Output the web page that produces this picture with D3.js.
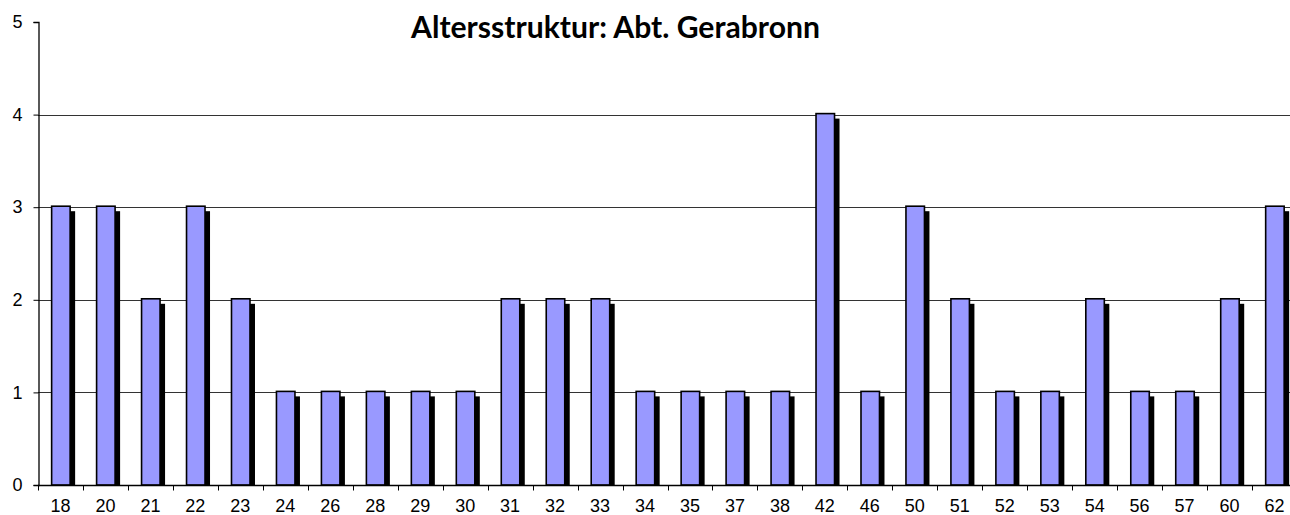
<!DOCTYPE html>
<html>
<head>
<meta charset="utf-8">
<script src="https://cdn.jsdelivr.net/npm/d3@7"></script>
<style>
  body { margin: 0; background: #fff; }
  svg { display: block; }
</style>
</head>
<body>
<svg id="svg"></svg>
<script>
const WIDTH = 1290, HEIGHT = 515;

// data
const ages = ['18','20','21','22','23','24','26','28','29','30','31','32','33','34','35','37','38','42','46','50','51','52','53','54','56','57','60','62'];
const counts = [3,3,2,3,2,1,1,1,1,1,2,2,2,1,1,1,1,4,1,3,2,1,1,2,1,1,2,3];
const yTicks = [0,1,2,3,4,5];
const title = 'Altersstruktur: Abt. Gerabronn';

const svg = d3.select('#svg').attr('width', WIDTH).attr('height', HEIGHT);

// the plot runs a little past the right edge of the picture, as in the original
const plotL = 38, plotR = 1297, plotT = 22, plotB = 485;

const x = d3.scaleBand().domain(ages).range([plotL, plotR]);
const y = d3.scaleLinear().domain([0, 5]).range([plotB, plotT]);

// gridlines
svg.append('g').selectAll('line')
    .data(yTicks.filter(t => t > 0 && t < 5))
    .join('line')
    .attr('x1', plotL).attr('x2', WIDTH)
    .attr('y1', d => Math.round(y(d)) + 0.5).attr('y2', d => Math.round(y(d)) + 0.5)
    .attr('stroke', '#333').attr('stroke-width', 1);

const barW = 18.5, off = 0.4;
const data = ages.map((a, i) => ({age: a, n: counts[i]}));
const bx = d => x(d.age) + x.bandwidth() / 2 - barW / 2 + off;

// shadows
svg.append('g').selectAll('rect')
    .data(data)
    .join('rect')
    .attr('x', d => bx(d) + 5)
    .attr('y', d => y(d.n) + 4)
    .attr('width', barW)
    .attr('height', d => plotB - y(d.n) - 4)
    .attr('fill', '#000');

// bars
svg.append('g').selectAll('rect')
    .data(data)
    .join('rect')
    .attr('x', d => bx(d))
    .attr('y', d => y(d.n) - 1)
    .attr('width', barW)
    .attr('height', d => plotB - y(d.n) + 1)
    .attr('fill', '#9999ff')
    .attr('stroke', '#000')
    .attr('stroke-width', 1.6);

// y axis
const yAxis = svg.append('g').attr('transform', 'translate(' + (plotL + 0.5) + ',0)')
    .call(d3.axisLeft(y).tickValues(yTicks).tickSize(5).tickPadding(11).tickFormat(d3.format('d')));
yAxis.select('.domain').attr('stroke', '#000').attr('stroke-width', 1.3);
yAxis.selectAll('.tick line').attr('stroke', '#000');
yAxis.selectAll('text').attr('font-family', '"Liberation Sans", Arial, sans-serif').attr('font-size', 18).attr('fill', '#000');

// x axis
const xAxis = svg.append('g').attr('transform', 'translate(0,' + (plotB + 0.5) + ')')
    .call(d3.axisBottom(x).tickSize(0).tickPadding(13.5));
xAxis.select('.domain').attr('stroke', '#000').attr('stroke-width', 1.3).attr('d', 'M' + plotL + ',0H' + WIDTH);
xAxis.selectAll('text').attr('font-family', '"Liberation Sans", Arial, sans-serif').attr('font-size', 18).attr('fill', '#000');
// boundary ticks between categories
xAxis.append('g').selectAll('line')
    .data(ages)
    .join('line')
    .attr('x1', d => Math.round(x(d)) + 0.5).attr('x2', d => Math.round(x(d)) + 0.5)
    .attr('y1', 0).attr('y2', 5)
    .attr('stroke', '#000');

// title
const t = svg.append('text')
    .attr('x', 615.5).attr('y', 38)
    .attr('text-anchor', 'middle')
    .attr('font-family', 'Lato, "Open Sans", sans-serif')
    .attr('font-weight', 'bold')
    .attr('font-size', 24)
    .attr('fill', '#000')
    .text(title);
const tw = t.node().getComputedTextLength();
t.attr('font-size', 24 * 409 / tw);
</script>
</body>
</html>
